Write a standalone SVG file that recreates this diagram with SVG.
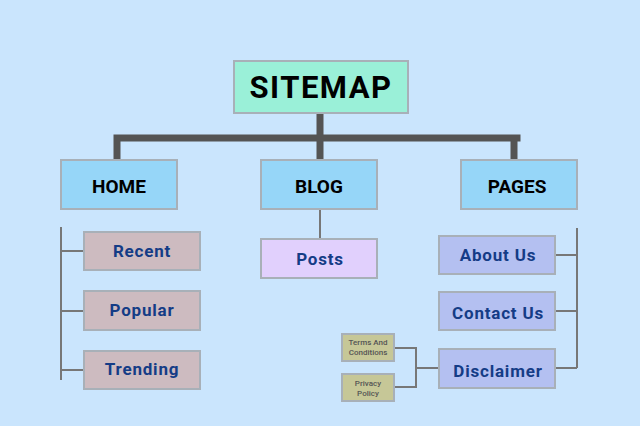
<svg xmlns="http://www.w3.org/2000/svg" width="640" height="426" viewBox="0 0 640 426">
<style>
.t{font-family:Roboto,"Liberation Sans",sans-serif;text-anchor:middle}
.root{fill:#9af0d8;stroke:#a8b0b8;stroke-width:2}
.hdr{fill:#96d6f8;stroke:#a8b0b8;stroke-width:2}
.home{fill:#cdbbc0;stroke:#a8b0b8;stroke-width:2}
.post{fill:#e1d0fd;stroke:#a8b0b8;stroke-width:2}
.page{fill:#b4c0f1;stroke:#a8b0b8;stroke-width:2}
.leaf{fill:#c6c797;stroke:#a8b0b8;stroke-width:2}
.ht{font-size:19px;font-weight:bold;fill:#000}
.ct{font-size:17px;font-weight:bold;fill:#143c86;letter-spacing:0.8px}
.st{font-size:8px;font-weight:500;fill:#555}
.thick{stroke:#545454;stroke-width:7;fill:none}
.thin{stroke:#777;stroke-width:2;fill:none}
</style>
<rect width="640" height="426" fill="#cae5fd"/>
<g id="connectors">
<path class="thick" d="M320 113V138M113.5 138H520.5M117 138V160M320 138V160M514 138V160"/>
<path class="thin" d="M320 209V239"/>
<path class="thin" d="M61 227V380M61 251H84M61 311H84M61 370H84"/>
<path class="thin" d="M577 228V368M555 255H577M555 311H577M555 368H577"/>
<path class="thin" d="M394 348H416V387H394M416 368H439"/>
</g>
<g id="sitemap"><rect class="root" x="234" y="61" width="174" height="52"/><text class="t" x="321" y="98" style="font-size:31px;font-weight:bold;letter-spacing:1.5px;fill:#000">SITEMAP</text></g>
<g id="home"><rect class="hdr" x="61" y="160" width="116" height="49"/><text class="t ht" x="119" y="193">HOME</text></g>
<g id="blog"><rect class="hdr" x="261" y="160" width="116" height="49"/><text class="t ht" x="319" y="193">BLOG</text></g>
<g id="pages"><rect class="hdr" x="461" y="160" width="116" height="49"/><text class="t ht" x="517" y="193">PAGES</text></g>
<g id="recent"><rect class="home" x="84" y="232" width="116" height="38"/><text class="t ct" x="142" y="257">Recent</text></g>
<g id="popular"><rect class="home" x="84" y="291" width="116" height="39"/><text class="t ct" x="142" y="316">Popular</text></g>
<g id="trending"><rect class="home" x="84" y="351" width="116" height="38"/><text class="t ct" x="142" y="375">Trending</text></g>
<g id="posts"><rect class="post" x="261" y="239" width="116" height="39"/><text class="t ct" x="320" y="265">Posts</text></g>
<g id="about"><rect class="page" x="439" y="236" width="116" height="38"/><text class="t ct" x="498" y="261">About Us</text></g>
<g id="contact"><rect class="page" x="439" y="292" width="116" height="38"/><text class="t ct" x="498" y="319">Contact Us</text></g>
<g id="disclaimer"><rect class="page" x="439" y="349" width="116" height="39"/><text class="t ct" x="498" y="377">Disclaimer</text></g>
<g id="terms"><rect class="leaf" x="342" y="334" width="52" height="27"/><text class="t st" x="368" y="345">Terms And</text><text class="t st" x="368" y="355">Conditions</text></g>
<g id="privacy"><rect class="leaf" x="342" y="374" width="52" height="27"/><text class="t st" x="368" y="386">Privacy</text><text class="t st" x="368" y="396">Policy</text></g>
</svg>
